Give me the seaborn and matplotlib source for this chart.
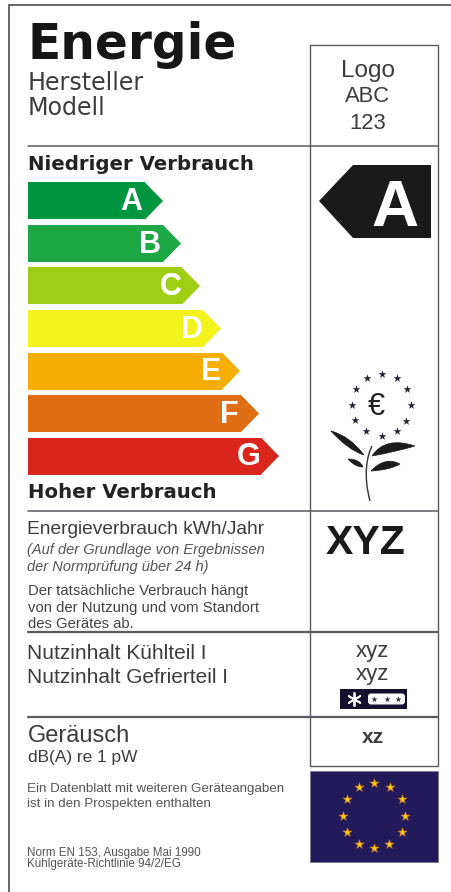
import matplotlib
matplotlib.use("Agg")
import matplotlib.pyplot as plt
import seaborn as sns
from matplotlib.patches import Polygon, Rectangle, FancyBboxPatch, PathPatch
from matplotlib.path import Path

# energy classes, bar length (px from the left end of the bar to the shoulder)
grades = ['A', 'B', 'C', 'D', 'E', 'F', 'G']
bar_lengths = [117, 135, 154, 175, 194, 213, 233]
grade_colors = ['#00963F', '#1EA845', '#9FCF15', '#F2F31C', '#F4AE05', '#DF6E14', '#DA251C']
letter_offset = [14, 13, 11, 11, 11, 12, 12]

# stars of the flag and of the flower (px in the picture)
flag_star_x = [374, 390, 402, 405, 402, 389, 374, 359, 347, 343, 347, 359]
flag_star_y = [783, 787, 799, 816, 832, 844, 848, 844, 832, 816, 799, 787]
flower_star_x = [382, 367, 397, 356, 407, 352, 411, 355, 406, 366, 382, 397]
flower_star_y = [374, 378, 378, 389, 389, 405, 405, 420, 421, 431, 436, 431]

line_color = '#5a5a62'
text_color = '#3c3c3c'
sans = 'Liberation Sans'
wide = 'DejaVu Sans'

sns.set_style("white")
fig = plt.figure(figsize=(4.51, 8.92), dpi=100)
fig.patch.set_facecolor('white')

# background axes in picture pixels, for the frame and the texts
ax = fig.add_axes([0, 0, 1, 1])
ax.set_xlim(0, 451)
ax.set_ylim(892, 0)
ax.axis('off')

# frame and table lines
ax.plot([9, 9], [5, 892], color=line_color, lw=1.3)
ax.plot([9, 451], [5, 5], color=line_color, lw=1.3)
ax.plot([310, 438, 438, 310, 310], [45, 45, 766, 766, 45], color=line_color, lw=1.0)
ax.plot([28, 438], [146, 146], color=line_color, lw=1.1)
ax.plot([28, 438], [511, 511], color=line_color, lw=1.1)
ax.plot([28, 438], [632, 632], color=line_color, lw=1.6)
ax.plot([28, 438], [717, 717], color=line_color, lw=1.6)

# grade bars through seaborn, one unit per pixel on x
ax_bars = fig.add_axes([28 / 451, 1 - 477.3 / 892, (451 - 28) / 451, 297.6 / 892])
sns.barplot(x=bar_lengths, y=grades, hue=grades, palette=grade_colors, legend=False,
            width=0.87, saturation=1, ax=ax_bars, linewidth=0)
ax_bars.set_xlim(0, 451 - 28)
ax_bars.set_ylim(6.5, -0.5)
ax_bars.axis('off')
ax_bars.patch.set_alpha(0)

# arrow heads on top of each bar
for i, p in enumerate(ax_bars.patches[:7]):
    end = p.get_x() + p.get_width()
    top = p.get_y()
    bot = p.get_y() + p.get_height()
    ax_bars.add_patch(Polygon([(end, top), (end + 18, (top + bot) / 2), (end, bot)],
                              closed=True, color=grade_colors[i], lw=0))
    ax_bars.text(end - letter_offset[i], i + 0.03, grades[i], color='white', fontsize=22,
                 fontweight='bold', family=sans, ha='center', va='center')

# black arrow with the class of this device
ax.add_patch(Polygon([(319, 201), (353, 165), (431, 165), (431, 238), (353, 238)], closed=True,
                     color='#1a1a1a', lw=0))
ax.text(395, 226, 'A', color='white', fontsize=47, fontweight='bold', family=sans, ha='center', va='baseline')

# headers
ax.text(28, 59, 'Energie', color='#161616', fontsize=35, fontweight='bold', family=wide, va='baseline')
ax.text(28, 90, 'Hersteller', color=text_color, fontsize=17.1, family=wide, va='baseline')
ax.text(28, 115, 'Modell', color=text_color, fontsize=17.1, family=wide, va='baseline')
ax.text(368, 77, 'Logo', color=text_color, fontsize=17.5, family=sans, ha='center', va='baseline')
ax.text(368, 102, 'ABC', color=text_color, fontsize=15.8, family=sans, ha='center', va='baseline')
ax.text(368, 129, '123', color=text_color, fontsize=15.8, family=sans, ha='center', va='baseline')
ax.text(28, 170, 'Niedriger Verbrauch', color='#222222', fontsize=14.2, fontweight='bold', family=wide, va='baseline')
ax.text(28, 498, 'Hoher Verbrauch', color='#222222', fontsize=14.2, fontweight='bold', family=wide, va='baseline')

# consumption block
ax.text(27, 534, 'Energieverbrauch kWh/Jahr', color=text_color, fontsize=13.8, family=sans, va='baseline')
ax.text(27, 554, '(Auf der Grundlage von Ergebnissen', color='#555555', fontsize=10.5, family=sans,
        style='italic', va='baseline')
ax.text(27, 571, 'der Normprüfung über 24 h)', color='#555555', fontsize=10.5, family=sans,
        style='italic', va='baseline')
ax.text(28, 595, 'Der tatsächliche Verbrauch hängt', color='#444444', fontsize=10.7, family=sans, va='baseline')
ax.text(28, 612, 'von der Nutzung und vom Standort', color='#444444', fontsize=10.7, family=sans, va='baseline')
ax.text(28, 628, 'des Gerätes ab.', color='#444444', fontsize=10.7, family=sans, va='baseline')
ax.text(366, 554, 'XYZ', color='#1a1a1a', fontsize=29.5, fontweight='bold', family=sans, ha='center', va='baseline')

# volumes
ax.text(27, 659, 'Nutzinhalt Kühlteil I', color=text_color, fontsize=15, family=sans, va='baseline')
ax.text(27, 683, 'Nutzinhalt Gefrierteil I', color=text_color, fontsize=15, family=sans, va='baseline')
ax.text(372, 657, 'xyz', color=text_color, fontsize=16, family=sans, ha='center', va='baseline')
ax.text(372, 680, 'xyz', color=text_color, fontsize=16, family=sans, ha='center', va='baseline')

# freezer icon
ax.add_patch(Rectangle((340, 689), 67, 20, color='#14102e', lw=0))
ax.add_patch(FancyBboxPatch((368, 693.5), 37, 11, boxstyle='round,pad=0,rounding_size=3', color='white', lw=0))
ax.scatter([354], [699], marker=(6, 2, 0), s=90, color='white', lw=1.3, zorder=3)
ax.scatter([374, 387, 398], [699, 699, 699], marker='*', s=22, color='#333344', lw=0, zorder=3)

# noise
ax.text(28, 742, 'Geräusch', color=text_color, fontsize=17, family=sans, va='baseline')
ax.text(28, 762, 'dB(A) re 1 pW', color=text_color, fontsize=12.4, family=sans, va='baseline')
ax.text(373, 743, 'xz', color=text_color, fontsize=15, fontweight='bold', family=sans, ha='center', va='baseline')

# small print
ax.text(27, 792, 'Ein Datenblatt mit weiteren Geräteangaben', color='#555555', fontsize=9.65, family=sans, va='baseline')
ax.text(27, 807, 'ist in den Prospekten enthalten', color='#555555', fontsize=9.65, family=sans, va='baseline')
ax.text(27, 856, 'Norm EN 153, Ausgabe Mai 1990', color='#555555', fontsize=8.4, family=sans, va='baseline')
ax.text(27, 867, 'Kühlgeräte-Richtlinie 94/2/EG', color='#555555', fontsize=8.4, family=sans, va='baseline')

# EU flag
ax.add_patch(Rectangle((310, 771), 128, 91, facecolor='#231A5C', edgecolor='#777788', lw=0.6))
ax.scatter(flag_star_x, flag_star_y, marker='*', s=48, color='#F2D21E', edgecolor='#D2691E', lw=0.4, zorder=3)

# flower of the eco label
ax.scatter(flower_star_x, flower_star_y, marker='*', s=36, color='#222233', lw=0, zorder=3)
ax.text(376, 415, '€', color='#222222', fontsize=22, family=sans, ha='center', va='baseline')


def add_leaf(pts):
    # pts: start, control, tip, control, back to start
    codes = [Path.MOVETO, Path.CURVE3, Path.CURVE3, Path.CURVE3, Path.CURVE3]
    ax.add_patch(PathPatch(Path(pts, codes), facecolor='#1c1c1c', edgecolor='#1c1c1c', lw=0.5))


add_leaf([(331, 431), (350, 436), (364, 455), (348, 450), (331, 431)])
add_leaf([(372, 456), (385, 436), (415, 446), (395, 452), (372, 456)])
add_leaf([(348, 459), (360, 459), (363, 467), (355, 467), (348, 459)])
add_leaf([(371, 471), (385, 456), (400, 464), (390, 470), (371, 471)])
stem = Path([(370, 501), (363, 475), (367, 456), (372, 446)],
            [Path.MOVETO, Path.CURVE4, Path.CURVE4, Path.CURVE4])
ax.add_patch(PathPatch(stem, facecolor='none', edgecolor='#333333', lw=1.0))

fig.savefig('out.png', dpi=100)
